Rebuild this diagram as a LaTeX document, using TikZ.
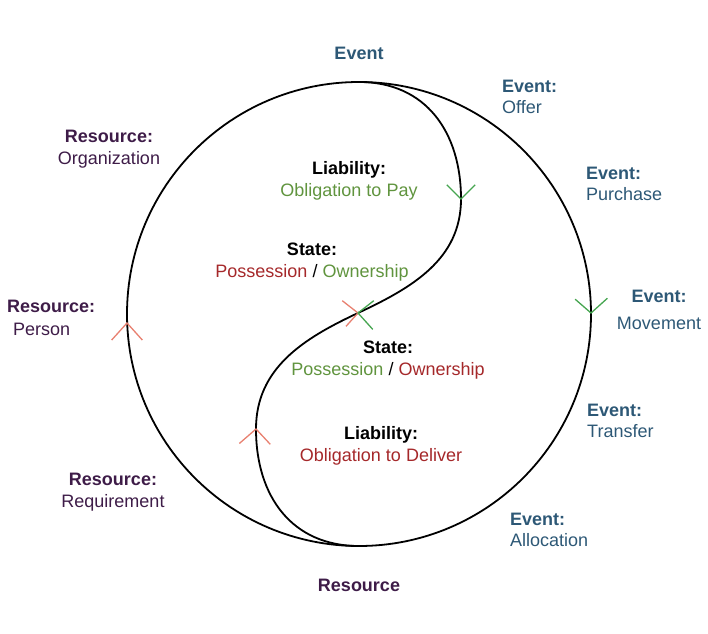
\documentclass[tikz,border=0pt]{standalone}
\usepackage{fontspec}
\setmainfont{Liberation Sans}
\usepackage{tikz}

\definecolor{evblue}{RGB}{45,88,118}
\definecolor{respurple}{RGB}{62,28,72}
\definecolor{txtgreen}{RGB}{96,148,62}
\definecolor{txtred}{RGB}{165,40,42}
\definecolor{markred}{RGB}{232,128,112}
\definecolor{markgreen}{RGB}{70,165,80}

\begin{document}
\begin{tikzpicture}[x=1pt, y=1pt,
  lbl/.style={inner sep=0pt, font=\fontsize{18}{21.5}\selectfont},
  evlbl/.style={lbl, text=evblue, align=left, anchor=west},
  reslbl/.style={lbl, text=respurple, align=center},
  midlbl/.style={lbl, align=center},
  ring/.style={line width=1.8pt},
  mkred/.style={draw=markred, line width=1.3pt},
  mkgreen/.style={draw=markgreen, line width=1.3pt}]
\useasboundingbox (0,0) rectangle (708,633);
\coordinate (O) at (359,319);
\coordinate (top) at (359,551);
\coordinate (bot) at (359,87);
\coordinate (sR) at (461,434);
\coordinate (mid) at (358,320);
\coordinate (sL) at (256,204);
\coordinate (mE) at (591,320);
\coordinate (mW) at (127,310);

\node[lbl, text=evblue] (ev) at (359,580) {\textbf{Event}};
\node[evlbl] (evOffer) at (502,536) {\textbf{Event:}\\Offer};
\node[evlbl] (evPurch) at (586,449) {\textbf{Event:}\\Purchase};
\node[lbl, text=evblue, align=center] (evMove) at (659,323) {\textbf{Event:}\\[5pt]Movement};
\node[evlbl] (evTrans) at (587,212) {\textbf{Event:}\\Transfer};
\node[evlbl] (evAlloc) at (510,103) {\textbf{Event:}\\Allocation};

\node[reslbl] (res) at (359,48) {\textbf{Resource}};
\node[reslbl] (resReq) at (113,141) {\textbf{Resource:}\\Requirement};
\node[reslbl, align=left, anchor=west] (resPers) at (7,315) {\textbf{Resource:}\\[2pt]\hspace*{6pt}Person};
\node[reslbl] (resOrg) at (109,484) {\textbf{Resource:}\\Organization};

\node[midlbl] (liaPay) at (349,452) {\textbf{Liability:}\\\textcolor{txtgreen}{Obligation to Pay}};
\node[midlbl] (stUp) at (312,371) {\textbf{State:}\\\textcolor{txtred}{Possession} / \textcolor{txtgreen}{Ownership}};
\node[midlbl] (stLow) at (388,273) {\textbf{State:}\\\textcolor{txtgreen}{Possession} / \textcolor{txtred}{Ownership}};
\node[midlbl] (liaDel) at (381,187) {\textbf{Liability:}\\\textcolor{txtred}{Obligation to Deliver}};

\draw[ring] (O) circle (232pt);
\draw[ring] (top) to[out=0,in=90,looseness=1.1] (sR) to[out=-90,in=25] (mid)
  to[out=205,in=90] (sL) to[out=-90,in=180,looseness=1.1] (bot);

\draw[mkgreen] (sR) +(135:20) -- (sR) -- +(45:20);
\draw[mkgreen] (mE) +(139:21) -- (mE) -- +(42:22);
\draw[mkred] (mW) +(228:23) -- (mW) -- +(312:23);
\draw[mkred] (sL) +(221:22) -- (sL) -- +(313:21);
\draw[mkred] (mid) +(142:20) -- (mid) -- +(228:18);
\draw[mkgreen] (mid) +(38:20) -- (mid) -- +(-48:22);
    %
\end{tikzpicture}
\end{document}
